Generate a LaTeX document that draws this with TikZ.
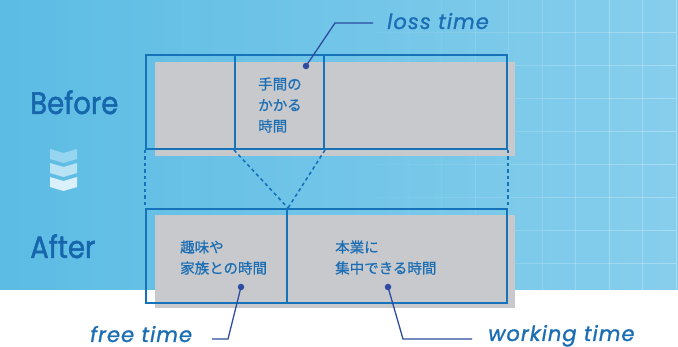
\documentclass[tikz,border=0pt]{standalone}
\usepackage{fontspec}
\newfontfamily\popp{Poppins}[FakeBold=1.6]
\newfontfamily\poppls{Poppins}[LetterSpace=5,FakeBold=1.2]
\newfontfamily\jp{Noto Sans CJK JP}[FakeBold=0.6]
\definecolor{bgL}{RGB}{92,188,228}
\definecolor{bgR}{RGB}{135,206,236}
\definecolor{boxgrey}{RGB}{200,201,204}
\definecolor{outl}{RGB}{23,115,185}
\definecolor{txtblue}{RGB}{27,110,180}
\definecolor{bigblue}{RGB}{22,102,172}
\definecolor{conn}{RGB}{45,75,160}
\definecolor{chevA}{RGB}{150,213,239}
\definecolor{chevB}{RGB}{184,227,245}
\definecolor{chevC}{RGB}{218,241,251}
\tikzset{
  cell/.style={draw=outl, line width=2pt, rectangle, inner sep=0pt, minimum height=94pt},
  dashln/.style={draw=outl, line width=1.6pt, dash pattern=on 3.5pt off 3pt},
  conline/.style={draw=conn, line width=1.3pt},
  dotnode/.style={circle, fill=conn, inner sep=0pt, minimum size=6.5pt},
  bigtxt/.style={text=bigblue, inner sep=0pt, font=\popp\fontsize{31}{31}\selectfont},
  lbltxt/.style={text=txtblue, inner sep=0pt, font=\poppls\itshape\fontsize{21}{21}\selectfont},
  jptxt/.style={text=txtblue, inner sep=0pt, align=left, font=\jp\fontsize{14.5}{21}\selectfont},
}
\begin{document}
\begin{tikzpicture}[x=1pt,y=-1pt]
\useasboundingbox (0,0) rectangle (678,347);
\fill[white] (0,0) rectangle (678,347);
\shade[left color=bgL, right color=bgR] (0,0) rectangle (678,290);
% grid
\foreach \i in {0,...,8} {
  \pgfmathsetmacro\xx{408+33.5*\i}
  \pgfmathsetmacro\op{0.04+0.03*\i}
  \draw[white, opacity=\op, line width=1pt] (\xx,0) -- (\xx,290);
  \foreach \j in {1,...,8} {
    \pgfmathsetmacro\yy{33*\j}
    \draw[white, opacity=\op, line width=1pt] (\xx-33.5,\yy) -- (\xx,\yy);
  }
}
% chevrons
\foreach \yy/\cc in {149/chevA,163/chevB,177/chevC} {
  \fill[\cc] (50,\yy) -- (63.5,\yy+4) -- (77,\yy) -- (77,\yy+10) -- (63.5,\yy+14) -- (50,\yy+10) -- cycle;
}
% grey fills
\fill[boxgrey] (155,62) rectangle (515,156);
\fill[boxgrey] (155,215) rectangle (515,308);
% cells
\node[cell, minimum width=89pt] (b1) at (190.5,102) {};
\node[cell, minimum width=89pt] (b2) at (279.5,102) {};
\node[cell, minimum width=183pt] (b3) at (415.5,102) {};
\node[cell, minimum width=141pt] (a1) at (216.5,256) {};
\node[cell, minimum width=220pt] (a2) at (397,256) {};
% dashed links
\draw[dashln] (b1.south west) -- (a1.north west);
\draw[dashln] (b3.south east) -- (a2.north east);
\draw[dashln] (b2.south west) -- (a1.north east);
\draw[dashln] (b2.south east) -- (a1.north east);
% big labels
\node[bigtxt, anchor=base west] (before) at (30,114) {\scalebox{0.89}[1]{Before}};
\node[bigtxt, anchor=base west] (after) at (30,258) {\scalebox{0.89}[1]{After}};
% japanese
\node[jptxt, anchor=west] (jloss) at (258,105) {手間の\\かかる\\時間};
\node[jptxt, anchor=west] (jfree) at (180,257.5) {趣味や\\家族との時間};
\node[jptxt, anchor=west] (jwork) at (335,257.5) {本業に\\集中できる時間};
% dots
\node[dotnode] (dloss) at (306,66) {};
\node[dotnode] (dfree) at (241,287) {};
\node[dotnode] (dwork) at (388,287) {};
\coordinate (kloss) at (335,23);
\coordinate (eloss) at (373,23);
\coordinate (kfree) at (228,339);
\coordinate (efree) at (212,339);
\coordinate (kwork) at (403,339);
\coordinate (ework) at (472,339);
\draw[conline] (dloss.center) -- (kloss) -- (eloss);
\draw[conline] (dfree.center) -- (kfree) -- (efree);
\draw[conline] (dwork.center) -- (kwork) -- (ework);
% italic labels
\node[lbltxt, anchor=base west] (lloss) at (387,29) {loss time};
\node[lbltxt, anchor=base west] (lfree) at (90,342) {free time};
\node[lbltxt, anchor=base west] (lwork) at (488,341) {working time};
\end{tikzpicture}
\end{document}
